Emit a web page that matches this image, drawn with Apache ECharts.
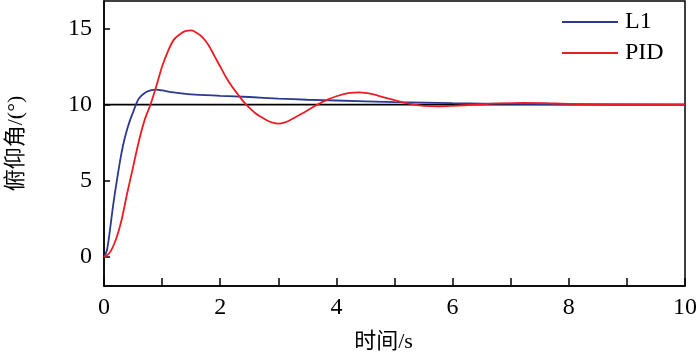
<!DOCTYPE html>
<html>
<head>
<meta charset="utf-8">
<script src="https://cdn.jsdelivr.net/npm/echarts@6/dist/echarts.min.js"></script>
<style>
  html, body { margin: 0; padding: 0; background: #fff; }
  #chart { width: 700px; height: 354px; }
</style>
</head>
<body>
<div id="chart"></div>
<script>
// L1 响应
const tL1 = [0, 0.05, 0.1, 0.15, 0.2, 0.25, 0.3, 0.35, 0.4, 0.45, 0.5, 0.55, 0.6, 0.7, 0.8, 0.9, 1.0, 1.2, 1.5, 2.0, 2.5, 3.0, 3.5, 4.0, 5.0, 6.0, 7.0, 8.0, 10]
const vL1 = [0, 0.45, 1.7, 3.2, 4.5, 5.7, 6.8, 7.7, 8.4, 9.0, 9.5, 10.0, 10.4, 10.76, 10.93, 10.98, 10.93, 10.8, 10.67, 10.58, 10.5, 10.4, 10.32, 10.27, 10.17, 10.1, 10.05, 10.02, 10.0]

// PID 响应
const tPID = [0, 0.1, 0.2, 0.3, 0.4, 0.5, 0.6, 0.7, 0.8, 0.9, 1.0, 1.1, 1.2, 1.3, 1.4, 1.5, 1.6, 1.7, 1.8, 1.9, 2.0, 2.1, 2.2, 2.3, 2.4, 2.5, 2.6, 2.7, 2.8, 2.9, 3.0, 3.1, 3.2, 3.4, 3.6, 3.8, 4.0, 4.2, 4.4, 4.6, 4.8, 5.0, 5.2, 5.4, 5.6, 5.8, 6.0, 6.4, 6.8, 7.2, 7.6, 8.0, 9.0, 10]
const vPID = [0, 0.3, 1.1, 2.4, 4.2, 5.9, 7.6, 9.0, 10.0, 11.2, 12.5, 13.5, 14.25, 14.6, 14.82, 14.87, 14.7, 14.4, 13.9, 13.2, 12.5, 11.8, 11.2, 10.7, 10.2, 9.8, 9.45, 9.2, 8.98, 8.82, 8.76, 8.82, 8.98, 9.4, 9.85, 10.25, 10.55, 10.75, 10.8, 10.7, 10.5, 10.3, 10.1, 9.97, 9.9, 9.89, 9.92, 10.0, 10.08, 10.12, 10.1, 10.05, 10.0, 10.0]

// 期望值
const tRef = [0, 10]
const vRef = [10, 10]

const yTicks = [0, 5, 10, 15]

const zip = (t, v) => t.map((x, i) => [x, v[i]])
const font = 'Liberation Serif, Noto Sans CJK SC, serif'

const chart = echarts.init(document.getElementById('chart'))
chart.setOption({
  animation: false,
  grid: {
    left: 104, right: 15, top: 1, bottom: 68,
    outerBoundsMode: 'none',
    show: true, borderColor: '#000', borderWidth: 1.5
  },
  legend: {
    data: ['L1', 'PID'],
    orient: 'vertical',
    left: 557, top: 5,
    icon: 'rect',
    itemWidth: 56, itemHeight: 2, itemGap: 7,
    textStyle: { fontFamily: font, fontSize: 24, color: '#000', padding: [0, 0, 0, 2] }
  },
  xAxis: {
    type: 'value',
    min: 0, max: 10, interval: 1,
    name: '时间/s',
    nameLocation: 'middle',
    nameGap: 45,
    nameTextStyle: { fontFamily: font, fontSize: 22, color: '#000', padding: [0, 22, 0, 0] },
    axisLine: { onZero: false, lineStyle: { color: '#000', width: 1.5 } },
    axisTick: { inside: true, length: 8, lineStyle: { color: '#000', width: 1.5 } },
    axisLabel: {
      fontFamily: font, fontSize: 24, color: '#000', margin: 10,
      formatter: v => (v % 2 === 0 ? v : '')
    },
    splitLine: { show: false }
  },
  yAxis: {
    type: 'value',
    min: -1.9, max: 16.8,
    name: '俯仰角/(°)',
    nameLocation: 'middle',
    nameGap: 77,
    nameTextStyle: { fontFamily: font, fontSize: 22, color: '#000' },
    axisLine: { onZero: false, lineStyle: { color: '#000', width: 1.5 } },
    axisTick: { inside: true, length: 6, customValues: yTicks, lineStyle: { color: '#000', width: 1.5 } },
    axisLabel: { fontFamily: font, fontSize: 24, color: '#000', margin: 12, customValues: yTicks },
    splitLine: { show: false }
  },
  series: [
    {
      name: 'ref',
      type: 'line',
      data: zip(tRef, vRef),
      showSymbol: false, symbol: 'none',
      lineStyle: { color: '#000', width: 1.8 },
      z: 1, silent: true
    },
    {
      name: 'L1',
      type: 'line',
      data: zip(tL1, vL1),
      smooth: 0.3,
      showSymbol: false, symbol: 'none',
      itemStyle: { color: '#2B3990' },
      lineStyle: { color: '#2B3990', width: 1.8 },
      z: 2
    },
    {
      name: 'PID',
      type: 'line',
      data: zip(tPID, vPID),
      smooth: 0.3,
      showSymbol: false, symbol: 'none',
      itemStyle: { color: '#ED1C24' },
      lineStyle: { color: '#ED1C24', width: 1.8 },
      z: 3
    }
  ]
})
</script>
</body>
</html>
